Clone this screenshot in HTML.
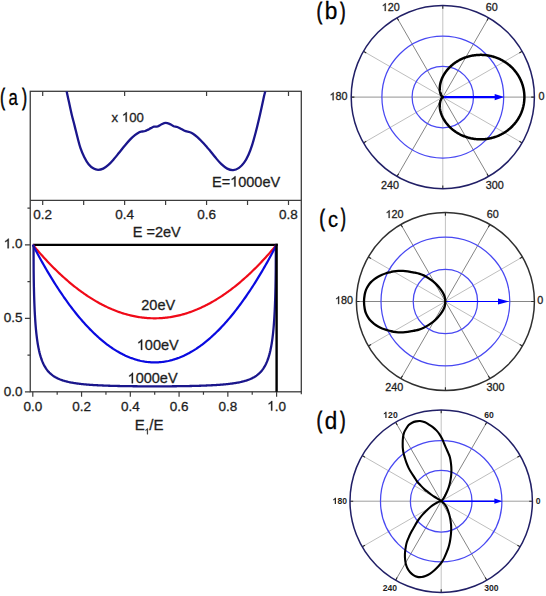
<!DOCTYPE html>
<html><head><meta charset="utf-8"><style>
html,body{margin:0;padding:0;background:#fff;}
body{width:546px;height:596px;overflow:hidden;}
svg{display:block;font-family:"Liberation Sans", sans-serif;}
</style></head><body>
<svg width="546" height="596" viewBox="0 0 546 596">
<rect width="546" height="596" fill="#fff"/>
<rect x="30.25" y="91.3" width="271.05" height="300.5" fill="none" stroke="#3c3c3c" stroke-width="1.3"/>
<line x1="30.25" y1="200.3" x2="301.3" y2="200.3" stroke="#3c3c3c" stroke-width="1.3"/>
<path d="M42.7,91.3 V95.9 M124.63,91.3 V95.9 M206.57,91.3 V95.9 M288.5,91.3 V95.9 M42.7,200.3 V204.9 M83.67,200.3 V204.9 M124.63,200.3 V204.9 M165.6,200.3 V204.9 M206.57,200.3 V204.9 M247.53,200.3 V204.9 M288.5,200.3 V204.9 M32.8,391.8 V396.8 M57.18,391.8 V394.8 M81.56,391.8 V396.8 M105.94,391.8 V394.8 M130.32,391.8 V396.8 M154.7,391.8 V394.8 M179.08,391.8 V396.8 M203.46,391.8 V394.8 M227.84,391.8 V396.8 M252.22,391.8 V394.8 M276.6,391.8 V396.8 M301.3,391.8 V394.3 M24.95,391.8 H30.25 M24.95,318.3 H30.25 M24.95,244.8 H30.25 M27.45,355.05 H30.25 M27.45,281.55 H30.25 M27.45,208.05 H30.25" stroke="#3c3c3c" stroke-width="1.2" fill="none"/>
<clipPath id="cu"><rect x="30.25" y="91.3" width="271.05" height="109.00000000000001"/></clipPath>
<path clip-path="url(#cu)" d="M66.6,91.2 C66.97,92.87 67.95,97.33 68.8,101.2 C69.65,105.07 70.72,110.25 71.7,114.4 C72.68,118.55 73.72,122.2 74.7,126.1 C75.68,130 76.63,134.13 77.6,137.8 C78.57,141.47 79.4,144.92 80.5,148.1 C81.6,151.28 82.85,154.22 84.2,156.9 C85.55,159.58 87.02,162.25 88.6,164.2 C90.18,166.15 92.12,167.67 93.7,168.6 C95.28,169.53 96.52,169.8 98.1,169.8 C99.68,169.8 101.48,169.42 103.2,168.6 C104.92,167.78 106.65,166.45 108.4,164.9 C110.15,163.35 111.97,161.27 113.7,159.3 C115.43,157.33 116.97,155.35 118.8,153.1 C120.63,150.85 122.87,148 124.7,145.8 C126.53,143.6 128.1,141.67 129.8,139.9 C131.5,138.13 133.32,136.48 134.9,135.2 C136.48,133.92 138.08,132.82 139.3,132.2 C140.52,131.58 141.22,131.7 142.2,131.5 C143.18,131.3 144.22,131.32 145.2,131 C146.18,130.68 147.15,130.08 148.1,129.6 C149.05,129.12 149.93,128.58 150.9,128.1 C151.87,127.62 152.8,126.97 153.9,126.7 C155,126.43 156.28,126.87 157.5,126.5 C158.72,126.13 159.85,125.12 161.2,124.5 C162.55,123.88 164.13,122.87 165.6,122.8 C167.07,122.73 168.67,123.53 170,124.1 C171.33,124.67 172.38,125.72 173.6,126.2 C174.82,126.68 176.02,126.53 177.3,127 C178.58,127.47 179.9,128.3 181.3,129 C182.7,129.7 184.37,130.7 185.7,131.2 C187.03,131.7 188.08,131.58 189.3,132 C190.52,132.42 191.65,132.85 193,133.7 C194.35,134.55 195.93,135.8 197.4,137.1 C198.87,138.4 200.33,139.97 201.8,141.5 C203.27,143.03 204.88,144.83 206.2,146.3 C207.52,147.77 208.15,148.42 209.7,150.3 C211.25,152.18 213.55,155.28 215.5,157.6 C217.45,159.92 219.45,162.37 221.4,164.2 C223.35,166.03 225.25,167.62 227.2,168.6 C229.15,169.58 231.13,170.22 233.1,170.1 C235.07,169.98 237.17,169.13 239,167.9 C240.83,166.67 242.52,164.9 244.1,162.7 C245.68,160.5 247.17,157.63 248.5,154.7 C249.83,151.77 250.88,148.88 252.1,145.1 C253.32,141.32 254.7,136.15 255.8,132 C256.9,127.85 257.72,124.37 258.7,120.2 C259.68,116.03 260.83,110.9 261.7,107 C262.57,103.1 263.3,99.43 263.9,96.8 C264.5,94.17 265.07,92.13 265.3,91.2" stroke="#1a168c" stroke-width="2.3" fill="none" stroke-linejoin="round"/>
<path d="M32.8,244.8 H277.7" stroke="#000" stroke-width="2.2" fill="none"/>
<path d="M32.8,244.8 L34.02,246.26 L35.24,247.71 L36.46,249.14 L37.68,250.56 L38.89,251.97 L40.11,253.36 L41.33,254.73 L42.55,256.09 L43.77,257.43 L44.99,258.76 L46.21,260.08 L47.43,261.38 L48.65,262.67 L49.87,263.94 L51.08,265.2 L52.3,266.44 L53.52,267.67 L54.74,268.88 L55.96,270.08 L57.18,271.26 L58.4,272.43 L59.62,273.58 L60.84,274.72 L62.06,275.85 L63.27,276.96 L64.49,278.05 L65.71,279.13 L66.93,280.2 L68.15,281.25 L69.37,282.29 L70.59,283.31 L71.81,284.31 L73.03,285.31 L74.25,286.28 L75.47,287.25 L76.68,288.19 L77.9,289.13 L79.12,290.05 L80.34,290.95 L81.56,291.84 L82.78,292.71 L84,293.57 L85.22,294.42 L86.44,295.25 L87.66,296.07 L88.87,296.87 L90.09,297.65 L91.31,298.43 L92.53,299.18 L93.75,299.93 L94.97,300.65 L96.19,301.37 L97.41,302.06 L98.63,302.75 L99.84,303.42 L101.06,304.07 L102.28,304.71 L103.5,305.33 L104.72,305.94 L105.94,306.54 L107.16,307.12 L108.38,307.69 L109.6,308.24 L110.82,308.77 L112.03,309.3 L113.25,309.8 L114.47,310.3 L115.69,310.77 L116.91,311.24 L118.13,311.69 L119.35,312.12 L120.57,312.54 L121.79,312.94 L123.01,313.33 L124.23,313.71 L125.44,314.07 L126.66,314.41 L127.88,314.74 L129.1,315.06 L130.32,315.36 L131.54,315.65 L132.76,315.92 L133.98,316.18 L135.2,316.42 L136.42,316.65 L137.63,316.86 L138.85,317.06 L140.07,317.24 L141.29,317.41 L142.51,317.57 L143.73,317.7 L144.95,317.83 L146.17,317.94 L147.39,318.04 L148.61,318.12 L149.82,318.18 L151.04,318.23 L152.26,318.27 L153.48,318.29 L154.7,318.3 L155.92,318.29 L157.14,318.27 L158.36,318.23 L159.58,318.18 L160.8,318.12 L162.01,318.04 L163.23,317.94 L164.45,317.83 L165.67,317.7 L166.89,317.56 L168.11,317.41 L169.33,317.24 L170.55,317.06 L171.77,316.86 L172.99,316.65 L174.2,316.42 L175.42,316.18 L176.64,315.92 L177.86,315.65 L179.08,315.36 L180.3,315.06 L181.52,314.74 L182.74,314.41 L183.96,314.07 L185.18,313.71 L186.39,313.33 L187.61,312.94 L188.83,312.54 L190.05,312.12 L191.27,311.69 L192.49,311.24 L193.71,310.77 L194.93,310.3 L196.15,309.8 L197.37,309.3 L198.58,308.77 L199.8,308.24 L201.02,307.69 L202.24,307.12 L203.46,306.54 L204.68,305.94 L205.9,305.33 L207.12,304.71 L208.34,304.07 L209.56,303.42 L210.77,302.75 L211.99,302.06 L213.21,301.37 L214.43,300.65 L215.65,299.93 L216.87,299.18 L218.09,298.43 L219.31,297.65 L220.53,296.87 L221.75,296.07 L222.96,295.25 L224.18,294.42 L225.4,293.57 L226.62,292.71 L227.84,291.84 L229.06,290.95 L230.28,290.05 L231.5,289.13 L232.72,288.19 L233.94,287.25 L235.15,286.28 L236.37,285.31 L237.59,284.31 L238.81,283.31 L240.03,282.29 L241.25,281.25 L242.47,280.2 L243.69,279.13 L244.91,278.05 L246.12,276.96 L247.34,275.85 L248.56,274.72 L249.78,273.58 L251,272.43 L252.22,271.26 L253.44,270.08 L254.66,268.88 L255.88,267.67 L257.1,266.44 L258.31,265.2 L259.53,263.94 L260.75,262.67 L261.97,261.38 L263.19,260.08 L264.41,258.76 L265.63,257.43 L266.85,256.09 L268.07,254.73 L269.29,253.36 L270.5,251.97 L271.72,250.56 L272.94,249.14 L274.16,247.71 L275.38,246.26 L276.6,244.8" stroke="#f00a18" stroke-width="2.2" fill="none"/>
<path d="M32.8,244.8 L34.02,247.14 L35.24,249.46 L36.46,251.75 L37.68,254.02 L38.89,256.27 L40.11,258.49 L41.33,260.69 L42.55,262.86 L43.77,265.02 L44.99,267.14 L46.21,269.25 L47.43,271.33 L48.65,273.39 L49.87,275.42 L51.08,277.43 L52.3,279.42 L53.52,281.39 L54.74,283.33 L55.96,285.24 L57.18,287.14 L58.4,289.01 L59.62,290.85 L60.84,292.67 L62.06,294.47 L63.27,296.25 L64.49,298 L65.71,299.73 L66.93,301.44 L68.15,303.12 L69.37,304.78 L70.59,306.41 L71.81,308.02 L73.03,309.61 L74.25,311.17 L75.47,312.71 L76.68,314.23 L77.9,315.72 L79.12,317.19 L80.34,318.64 L81.56,320.06 L82.78,321.46 L84,322.84 L85.22,324.19 L86.44,325.52 L87.66,326.83 L88.87,328.11 L90.09,329.37 L91.31,330.6 L92.53,331.81 L93.75,333 L94.97,334.16 L96.19,335.3 L97.41,336.42 L98.63,337.52 L99.84,338.59 L101.06,339.63 L102.28,340.66 L103.5,341.66 L104.72,342.63 L105.94,343.58 L107.16,344.51 L108.38,345.42 L109.6,346.3 L110.82,347.16 L112.03,347.99 L113.25,348.81 L114.47,349.59 L115.69,350.36 L116.91,351.1 L118.13,351.82 L119.35,352.51 L120.57,353.18 L121.79,353.83 L123.01,354.45 L124.23,355.05 L125.44,355.63 L126.66,356.18 L127.88,356.71 L129.1,357.21 L130.32,357.7 L131.54,358.15 L132.76,358.59 L133.98,359 L135.2,359.39 L136.42,359.75 L137.63,360.1 L138.85,360.41 L140.07,360.71 L141.29,360.98 L142.51,361.22 L143.73,361.45 L144.95,361.65 L146.17,361.82 L147.39,361.98 L148.61,362.11 L149.82,362.21 L151.04,362.29 L152.26,362.35 L153.48,362.39 L154.7,362.4 L155.92,362.39 L157.14,362.35 L158.36,362.29 L159.58,362.21 L160.8,362.11 L162.01,361.98 L163.23,361.82 L164.45,361.65 L165.67,361.45 L166.89,361.22 L168.11,360.98 L169.33,360.71 L170.55,360.41 L171.77,360.1 L172.99,359.75 L174.2,359.39 L175.42,359 L176.64,358.59 L177.86,358.15 L179.08,357.7 L180.3,357.21 L181.52,356.71 L182.74,356.18 L183.96,355.63 L185.18,355.05 L186.39,354.45 L187.61,353.83 L188.83,353.18 L190.05,352.51 L191.27,351.82 L192.49,351.1 L193.71,350.36 L194.93,349.59 L196.15,348.81 L197.37,347.99 L198.58,347.16 L199.8,346.3 L201.02,345.42 L202.24,344.51 L203.46,343.58 L204.68,342.63 L205.9,341.66 L207.12,340.66 L208.34,339.63 L209.56,338.59 L210.77,337.52 L211.99,336.42 L213.21,335.3 L214.43,334.16 L215.65,333 L216.87,331.81 L218.09,330.6 L219.31,329.37 L220.53,328.11 L221.75,326.83 L222.96,325.52 L224.18,324.19 L225.4,322.84 L226.62,321.46 L227.84,320.06 L229.06,318.64 L230.28,317.19 L231.5,315.72 L232.72,314.23 L233.94,312.71 L235.15,311.17 L236.37,309.61 L237.59,308.02 L238.81,306.41 L240.03,304.78 L241.25,303.12 L242.47,301.44 L243.69,299.73 L244.91,298 L246.12,296.25 L247.34,294.47 L248.56,292.67 L249.78,290.85 L251,289.01 L252.22,287.14 L253.44,285.24 L254.66,283.33 L255.88,281.39 L257.1,279.42 L258.31,277.43 L259.53,275.42 L260.75,273.39 L261.97,271.33 L263.19,269.25 L264.41,267.14 L265.63,265.02 L266.85,262.86 L268.07,260.69 L269.29,258.49 L270.5,256.27 L271.72,254.02 L272.94,251.75 L274.16,249.46 L275.38,247.14 L276.6,244.8" stroke="#0a0ae0" stroke-width="2.2" fill="none"/>
<path d="M33.53,244.8 L33.65,270.56 L33.77,279.9 L33.89,286.56 L34.02,291.87 L34.14,296.31 L34.26,300.15 L34.38,303.53 L34.5,306.57 L34.62,309.32 L34.74,311.83 L34.86,314.15 L34.99,316.3 L35.11,318.3 L35.23,320.17 L35.35,321.92 L35.47,323.58 L35.59,325.14 L35.71,326.62 L35.83,328.02 L35.95,329.36 L36.08,330.64 L36.2,331.85 L36.32,333.02 L36.44,334.13 L36.56,335.2 L36.68,336.23 L36.8,337.21 L36.92,338.16 L37.05,339.08 L37.17,339.96 L37.29,340.81 L37.41,341.64 L37.53,342.43 L37.65,343.2 L37.77,343.95 L37.89,344.67 L38.01,345.37 L38.14,346.05 L38.26,346.71 L38.38,347.35 L38.98,350.29 L39.59,352.87 L40.2,355.15 L40.8,357.18 L41.41,359.01 L42.01,360.65 L42.62,362.15 L43.22,363.51 L43.83,364.75 L44.44,365.9 L45.04,366.95 L45.65,367.93 L46.25,368.83 L46.86,369.67 L47.47,370.45 L48.07,371.18 L48.68,371.86 L49.28,372.5 L49.89,373.1 L50.5,373.66 L51.1,374.19 L51.71,374.69 L52.31,375.16 L52.92,375.61 L53.52,376.03 L54.13,376.43 L54.74,376.81 L55.34,377.17 L55.95,377.51 L56.55,377.83 L57.16,378.14 L57.77,378.43 L58.37,378.71 L58.98,378.98 L59.58,379.24 L60.19,379.48 L60.79,379.71 L61.4,379.94 L62.01,380.15 L62.61,380.36 L63.22,380.55 L63.82,380.74 L64.43,380.92 L65.04,381.09 L65.64,381.26 L66.25,381.42 L66.85,381.58 L67.46,381.72 L68.06,381.87 L68.67,382 L69.28,382.14 L69.88,382.26 L70.49,382.39 L71.09,382.51 L71.7,382.62 L72.31,382.73 L72.91,382.84 L73.52,382.94 L74.12,383.04 L74.73,383.14 L75.33,383.23 L75.94,383.32 L76.55,383.41 L77.15,383.49 L77.76,383.57 L78.36,383.65 L78.97,383.73 L79.58,383.81 L80.18,383.88 L80.79,383.95 L81.39,384.02 L82,384.08 L82.6,384.14 L83.21,384.21 L83.82,384.27 L84.42,384.33 L85.03,384.38 L85.63,384.44 L86.24,384.49 L86.85,384.54 L87.45,384.59 L88.06,384.64 L88.66,384.69 L89.27,384.74 L89.87,384.78 L90.48,384.83 L91.09,384.87 L91.69,384.91 L92.3,384.95 L92.9,384.99 L93.51,385.03 L94.12,385.07 L94.72,385.1 L95.33,385.14 L95.93,385.17 L96.54,385.21 L97.14,385.24 L97.75,385.27 L98.36,385.3 L98.96,385.33 L99.57,385.36 L100.17,385.39 L100.78,385.42 L101.39,385.45 L101.99,385.47 L102.6,385.5 L103.2,385.52 L103.81,385.55 L104.42,385.57 L105.02,385.6 L105.63,385.62 L106.23,385.64 L106.84,385.66 L107.44,385.68 L108.05,385.71 L108.66,385.73 L109.26,385.75 L109.87,385.76 L110.47,385.78 L111.08,385.8 L111.69,385.82 L112.29,385.84 L112.9,385.85 L113.5,385.87 L114.11,385.89 L114.71,385.9 L115.32,385.92 L115.93,385.93 L116.53,385.95 L117.14,385.96 L117.74,385.98 L118.35,385.99 L118.96,386 L119.56,386.02 L120.17,386.03 L120.77,386.04 L121.38,386.05 L121.98,386.07 L122.59,386.08 L123.2,386.09 L123.8,386.1 L124.41,386.11 L125.01,386.12 L125.62,386.13 L126.23,386.14 L126.83,386.15 L127.44,386.16 L128.04,386.17 L128.65,386.17 L129.25,386.18 L129.86,386.19 L130.47,386.2 L131.07,386.21 L131.68,386.21 L132.28,386.22 L132.89,386.23 L133.5,386.23 L134.1,386.24 L134.71,386.25 L135.31,386.25 L135.92,386.26 L136.52,386.26 L137.13,386.27 L137.74,386.28 L138.34,386.28 L138.95,386.29 L139.55,386.29 L140.16,386.29 L140.77,386.3 L141.37,386.3 L141.98,386.31 L142.58,386.31 L143.19,386.31 L143.79,386.32 L144.4,386.32 L145.01,386.32 L145.61,386.33 L146.22,386.33 L146.82,386.33 L147.43,386.33 L148.04,386.33 L148.64,386.34 L149.25,386.34 L149.85,386.34 L150.46,386.34 L151.06,386.34 L151.67,386.34 L152.28,386.34 L152.88,386.34 L153.49,386.34 L154.09,386.35 L154.7,386.35 L155.31,386.35 L155.91,386.34 L156.52,386.34 L157.12,386.34 L157.73,386.34 L158.34,386.34 L158.94,386.34 L159.55,386.34 L160.15,386.34 L160.76,386.34 L161.36,386.33 L161.97,386.33 L162.58,386.33 L163.18,386.33 L163.79,386.33 L164.39,386.32 L165,386.32 L165.61,386.32 L166.21,386.31 L166.82,386.31 L167.42,386.31 L168.03,386.3 L168.63,386.3 L169.24,386.29 L169.85,386.29 L170.45,386.29 L171.06,386.28 L171.66,386.28 L172.27,386.27 L172.88,386.26 L173.48,386.26 L174.09,386.25 L174.69,386.25 L175.3,386.24 L175.9,386.23 L176.51,386.23 L177.12,386.22 L177.72,386.21 L178.33,386.21 L178.93,386.2 L179.54,386.19 L180.15,386.18 L180.75,386.17 L181.36,386.17 L181.96,386.16 L182.57,386.15 L183.17,386.14 L183.78,386.13 L184.39,386.12 L184.99,386.11 L185.6,386.1 L186.2,386.09 L186.81,386.08 L187.42,386.07 L188.02,386.05 L188.63,386.04 L189.23,386.03 L189.84,386.02 L190.44,386 L191.05,385.99 L191.66,385.98 L192.26,385.96 L192.87,385.95 L193.47,385.93 L194.08,385.92 L194.69,385.9 L195.29,385.89 L195.9,385.87 L196.5,385.85 L197.11,385.84 L197.71,385.82 L198.32,385.8 L198.93,385.78 L199.53,385.76 L200.14,385.75 L200.74,385.73 L201.35,385.71 L201.96,385.68 L202.56,385.66 L203.17,385.64 L203.77,385.62 L204.38,385.6 L204.98,385.57 L205.59,385.55 L206.2,385.52 L206.8,385.5 L207.41,385.47 L208.01,385.45 L208.62,385.42 L209.23,385.39 L209.83,385.36 L210.44,385.33 L211.04,385.3 L211.65,385.27 L212.26,385.24 L212.86,385.21 L213.47,385.17 L214.07,385.14 L214.68,385.1 L215.28,385.07 L215.89,385.03 L216.5,384.99 L217.1,384.95 L217.71,384.91 L218.31,384.87 L218.92,384.83 L219.53,384.78 L220.13,384.74 L220.74,384.69 L221.34,384.64 L221.95,384.59 L222.55,384.54 L223.16,384.49 L223.77,384.44 L224.37,384.38 L224.98,384.33 L225.58,384.27 L226.19,384.21 L226.8,384.14 L227.4,384.08 L228.01,384.02 L228.61,383.95 L229.22,383.88 L229.82,383.81 L230.43,383.73 L231.04,383.65 L231.64,383.57 L232.25,383.49 L232.85,383.41 L233.46,383.32 L234.07,383.23 L234.67,383.14 L235.28,383.04 L235.88,382.94 L236.49,382.84 L237.09,382.73 L237.7,382.62 L238.31,382.51 L238.91,382.39 L239.52,382.26 L240.12,382.14 L240.73,382 L241.34,381.87 L241.94,381.72 L242.55,381.58 L243.15,381.42 L243.76,381.26 L244.36,381.09 L244.97,380.92 L245.58,380.74 L246.18,380.55 L246.79,380.36 L247.39,380.15 L248,379.94 L248.61,379.71 L249.21,379.48 L249.82,379.24 L250.42,378.98 L251.03,378.71 L251.63,378.43 L252.24,378.14 L252.85,377.83 L253.45,377.51 L254.06,377.17 L254.66,376.81 L255.27,376.43 L255.88,376.03 L256.48,375.61 L257.09,375.16 L257.69,374.69 L258.3,374.19 L258.9,373.66 L259.51,373.1 L260.12,372.5 L260.72,371.86 L261.33,371.18 L261.93,370.45 L262.54,369.67 L263.15,368.83 L263.75,367.93 L264.36,366.95 L264.96,365.9 L265.57,364.75 L266.18,363.51 L266.78,362.15 L267.39,360.65 L267.99,359.01 L268.6,357.18 L269.2,355.15 L269.81,352.87 L270.42,350.29 L271.02,347.35 L271.14,346.71 L271.26,346.05 L271.39,345.37 L271.51,344.67 L271.63,343.95 L271.75,343.2 L271.87,342.43 L271.99,341.64 L272.11,340.81 L272.23,339.96 L272.35,339.08 L272.48,338.16 L272.6,337.21 L272.72,336.23 L272.84,335.2 L272.96,334.13 L273.08,333.02 L273.2,331.85 L273.32,330.64 L273.45,329.36 L273.57,328.02 L273.69,326.62 L273.81,325.14 L273.93,323.58 L274.05,321.92 L274.17,320.17 L274.29,318.3 L274.41,316.3 L274.54,314.15 L274.66,311.83 L274.78,309.32 L274.9,306.57 L275.02,303.53 L275.14,300.15 L275.26,296.31 L275.38,291.87 L275.51,286.56 L275.63,279.9 L275.75,270.56 L275.87,244.8" stroke="#1a168c" stroke-width="2.3" fill="none"/>
<path d="M276.6,243.7 V391.8" stroke="#000" stroke-width="2.4" fill="none"/>
<text x="33.32" y="219.4" font-size="13.5" fill="#1e1e1e" stroke="#1e1e1e" stroke-width="0.3">0.2</text>
<text x="115.25" y="219.4" font-size="13.5" fill="#1e1e1e" stroke="#1e1e1e" stroke-width="0.3">0.4</text>
<text x="197.18" y="219.4" font-size="13.5" fill="#1e1e1e" stroke="#1e1e1e" stroke-width="0.3">0.6</text>
<text x="279.12" y="219.4" font-size="13.5" fill="#1e1e1e" stroke="#1e1e1e" stroke-width="0.3">0.8</text>
<text x="23.42" y="410.6" font-size="13.5" fill="#1e1e1e" stroke="#1e1e1e" stroke-width="0.3">0.0</text>
<text x="72.18" y="410.6" font-size="13.5" fill="#1e1e1e" stroke="#1e1e1e" stroke-width="0.3">0.2</text>
<text x="120.94" y="410.6" font-size="13.5" fill="#1e1e1e" stroke="#1e1e1e" stroke-width="0.3">0.4</text>
<text x="169.7" y="410.6" font-size="13.5" fill="#1e1e1e" stroke="#1e1e1e" stroke-width="0.3">0.6</text>
<text x="218.46" y="410.6" font-size="13.5" fill="#1e1e1e" stroke="#1e1e1e" stroke-width="0.3">0.8</text>
<text x="267.22" y="410.6" font-size="13.5" fill="#1e1e1e" stroke="#1e1e1e" stroke-width="0.3"> .0</text><path transform="translate(267.22 410.6) scale(0.00659 -0.00659)" d="M763,0H583V1147Q518,1085 412.5,1023Q307,961 223,930V1104Q374,1175 487,1276Q600,1377 647,1466H763Z" fill="#1e1e1e" stroke="#1e1e1e" stroke-width="45.51111111111111"/>
<text x="3.73" y="248.3" font-size="13.5" fill="#1e1e1e" stroke="#1e1e1e" stroke-width="0.3"> .0</text><path transform="translate(3.73 248.3) scale(0.00659 -0.00659)" d="M763,0H583V1147Q518,1085 412.5,1023Q307,961 223,930V1104Q374,1175 487,1276Q600,1377 647,1466H763Z" fill="#1e1e1e" stroke="#1e1e1e" stroke-width="45.51111111111111"/>
<text x="3.73" y="321.9" font-size="13.5" fill="#1e1e1e" stroke="#1e1e1e" stroke-width="0.3">0.5</text>
<text x="3.73" y="395.6" font-size="13.5" fill="#1e1e1e" stroke="#1e1e1e" stroke-width="0.3">0.0</text>
<text x="212" y="186.6" font-size="14.5" fill="#1e1e1e" stroke="#1e1e1e" stroke-width="0.3">E= 000eV</text><path transform="translate(230.14 186.6) scale(0.00708 -0.00708)" d="M763,0H583V1147Q518,1085 412.5,1023Q307,961 223,930V1104Q374,1175 487,1276Q600,1377 647,1466H763Z" fill="#1e1e1e" stroke="#1e1e1e" stroke-width="42.37241379310345"/>
<text x="132.8" y="237" font-size="14.5" fill="#1e1e1e" stroke="#1e1e1e" stroke-width="0.3">E =2eV</text>
<text x="141.3" y="309.6" font-size="14.5" fill="#1e1e1e" stroke="#1e1e1e" stroke-width="0.3">20eV</text>
<text x="136.8" y="349.9" font-size="14.5" fill="#1e1e1e" stroke="#1e1e1e" stroke-width="0.3"> 00eV</text><path transform="translate(136.8 349.9) scale(0.00708 -0.00708)" d="M763,0H583V1147Q518,1085 412.5,1023Q307,961 223,930V1104Q374,1175 487,1276Q600,1377 647,1466H763Z" fill="#1e1e1e" stroke="#1e1e1e" stroke-width="42.37241379310345"/>
<text x="127.6" y="383.2" font-size="14.5" fill="#1e1e1e" stroke="#1e1e1e" stroke-width="0.3"> 000eV</text><path transform="translate(127.6 383.2) scale(0.00708 -0.00708)" d="M763,0H583V1147Q518,1085 412.5,1023Q307,961 223,930V1104Q374,1175 487,1276Q600,1377 647,1466H763Z" fill="#1e1e1e" stroke="#1e1e1e" stroke-width="42.37241379310345"/>
<text x="111.6" y="121.7" font-size="13.2" fill="#1e1e1e" stroke="#1e1e1e" stroke-width="0.3">x  00</text><path transform="translate(121.87 121.7) scale(0.00645 -0.00645)" d="M763,0H583V1147Q518,1085 412.5,1023Q307,961 223,930V1104Q374,1175 487,1276Q600,1377 647,1466H763Z" fill="#1e1e1e" stroke="#1e1e1e" stroke-width="46.54545454545455"/>
<text x="134.7" y="430" font-size="15" fill="#1e1e1e" stroke="#1e1e1e" stroke-width="0.3">E</text>
<text x="144.7" y="434.3" font-size="8.2" fill="#1e1e1e" stroke="#1e1e1e" stroke-width="0.3"> </text><path transform="translate(144.7 434.3) scale(0.00400 -0.00400)" d="M763,0H583V1147Q518,1085 412.5,1023Q307,961 223,930V1104Q374,1175 487,1276Q600,1377 647,1466H763Z" fill="#1e1e1e" stroke="#1e1e1e" stroke-width="74.92682926829269"/>
<text x="149.27" y="430" font-size="15" fill="#1e1e1e" stroke="#1e1e1e" stroke-width="0.3">/E</text>
<text transform="translate(0.28 105.46) scale(0.5583 0.9833)" font-size="25" fill="#000" stroke="#000" stroke-width="1.0">(</text>
<text transform="translate(8.44 105.14) scale(0.6697 0.8688)" font-size="25" fill="#000" stroke="#000" stroke-width="0.3">a</text>
<text transform="translate(22.27 105.46) scale(0.5583 0.9833)" font-size="25" fill="#000" stroke="#000" stroke-width="1.0">)</text>
<text transform="translate(316.77 18.59) scale(0.6337 0.9575)" font-size="25" fill="#000" stroke="#000" stroke-width="1.0">(</text>
<text transform="translate(324.79 18.92) scale(0.9073 0.9423)" font-size="25" fill="#000" stroke="#000" stroke-width="0.3">b</text>
<text transform="translate(340.36 18.59) scale(0.6186 0.9575)" font-size="25" fill="#000" stroke="#000" stroke-width="1.0">)</text>
<text transform="translate(319.47 226.49) scale(0.6337 0.9575)" font-size="25" fill="#000" stroke="#000" stroke-width="1.0">(</text>
<text transform="translate(328.09 227.04) scale(0.8072 0.8761)" font-size="25" fill="#000" stroke="#000" stroke-width="0.3">c</text>
<text transform="translate(340.97 226.49) scale(0.5734 0.9575)" font-size="25" fill="#000" stroke="#000" stroke-width="1.0">)</text>
<text transform="translate(316.77 428.49) scale(0.6337 0.9575)" font-size="25" fill="#000" stroke="#000" stroke-width="1.0">(</text>
<text transform="translate(324.71 428.62) scale(0.8984 0.9314)" font-size="25" fill="#000" stroke="#000" stroke-width="0.3">d</text>
<text transform="translate(340.36 428.49) scale(0.6186 0.9575)" font-size="25" fill="#000" stroke="#000" stroke-width="1.0">)</text>
<line x1="442.8" y1="97.1" x2="534.4" y2="97.1" stroke="#939393" stroke-width="1"/>
<line x1="442.8" y1="97.1" x2="522.13" y2="51.3" stroke="#bebebe" stroke-width="1"/>
<line x1="442.8" y1="97.1" x2="488.6" y2="17.77" stroke="#858585" stroke-width="1"/>
<line x1="442.8" y1="97.1" x2="442.8" y2="5.5" stroke="#c2c2c2" stroke-width="1"/>
<line x1="442.8" y1="97.1" x2="397" y2="17.77" stroke="#858585" stroke-width="1"/>
<line x1="442.8" y1="97.1" x2="363.47" y2="51.3" stroke="#bebebe" stroke-width="1"/>
<line x1="442.8" y1="97.1" x2="351.2" y2="97.1" stroke="#939393" stroke-width="1"/>
<line x1="442.8" y1="97.1" x2="363.47" y2="142.9" stroke="#bebebe" stroke-width="1"/>
<line x1="442.8" y1="97.1" x2="397" y2="176.43" stroke="#858585" stroke-width="1"/>
<line x1="442.8" y1="97.1" x2="442.8" y2="188.7" stroke="#c2c2c2" stroke-width="1"/>
<line x1="442.8" y1="97.1" x2="488.6" y2="176.43" stroke="#858585" stroke-width="1"/>
<line x1="442.8" y1="97.1" x2="522.13" y2="142.9" stroke="#bebebe" stroke-width="1"/>
<path d="M531.2,97.1 L534.4,97.1 M519.36,52.9 L522.13,51.3 M487,20.54 L488.6,17.77 M442.8,8.7 L442.8,5.5 M398.6,20.54 L397,17.77 M366.24,52.9 L363.47,51.3 M354.4,97.1 L351.2,97.1 M366.24,141.3 L363.47,142.9 M398.6,173.66 L397,176.43 M442.8,185.5 L442.8,188.7 M487,173.66 L488.6,176.43 M519.36,141.3 L522.13,142.9" stroke="#2a2a2a" stroke-width="1.1"/>
<circle cx="442.8" cy="97.1" r="30.7" fill="none" stroke="#4848f2" stroke-width="1.25"/>
<circle cx="442.8" cy="97.1" r="60.9" fill="none" stroke="#4848f2" stroke-width="1.25"/>
<circle cx="442.8" cy="97.1" r="91.6" fill="none" stroke="#211f66" stroke-width="1.5"/>
<line x1="442.8" y1="97.1" x2="495.7" y2="97.1" stroke="#0000ff" stroke-width="2.2"/>
<path d="M504.2,97.1 L494.7,93.9 L494.7,100.3 Z" fill="#0000ff"/>
<path d="M524.4,97.1 L524.39,96.39 L524.38,95.68 L524.34,94.96 L524.3,94.25 L524.24,93.54 L524.18,92.84 L524.1,92.13 L524,91.42 L523.9,90.72 L523.78,90.02 L523.65,89.31 L523.51,88.62 L523.36,87.92 L523.19,87.23 L523.01,86.54 L522.82,85.85 L522.62,85.17 L522.41,84.49 L522.18,83.82 L521.94,83.14 L521.7,82.48 L521.44,81.81 L521.16,81.16 L520.88,80.5 L520.59,79.85 L520.28,79.21 L519.97,78.57 L519.64,77.94 L519.3,77.31 L518.96,76.69 L518.6,76.08 L518.23,75.47 L517.85,74.87 L517.46,74.27 L517.06,73.68 L516.65,73.1 L516.24,72.53 L515.81,71.96 L515.37,71.4 L514.92,70.85 L514.47,70.3 L514,69.77 L513.53,69.24 L513.05,68.72 L512.56,68.2 L512.06,67.7 L511.55,67.2 L511.04,66.72 L510.52,66.24 L509.99,65.77 L509.45,65.31 L508.91,64.86 L508.36,64.42 L507.8,63.98 L507.23,63.56 L506.66,63.14 L506.08,62.74 L505.5,62.34 L504.91,61.96 L504.32,61.58 L503.72,61.22 L503.11,60.86 L502.5,60.52 L501.88,60.18 L501.26,59.85 L500.64,59.54 L500.01,59.23 L499.38,58.94 L498.74,58.65 L498.1,58.38 L497.46,58.11 L496.81,57.86 L496.16,57.62 L495.51,57.38 L494.85,57.16 L494.19,56.95 L493.53,56.75 L492.87,56.55 L492.21,56.37 L491.54,56.2 L490.87,56.04 L490.2,55.89 L489.54,55.75 L488.86,55.62 L488.19,55.5 L487.52,55.4 L486.85,55.3 L486.18,55.21 L485.51,55.13 L484.84,55.06 L484.17,55 L483.5,54.96 L482.83,54.92 L482.16,54.89 L481.49,54.87 L480.83,54.86 L480.17,54.87 L479.5,54.88 L478.85,54.9 L478.19,54.93 L477.53,54.96 L476.88,55.01 L476.23,55.07 L475.58,55.14 L474.94,55.21 L474.3,55.3 L473.66,55.39 L473.03,55.49 L472.4,55.6 L471.77,55.72 L471.15,55.85 L470.53,55.98 L469.92,56.13 L469.31,56.28 L468.7,56.44 L468.1,56.61 L467.51,56.78 L466.92,56.96 L466.33,57.15 L465.75,57.35 L465.17,57.55 L464.6,57.76 L464.04,57.98 L463.48,58.21 L462.93,58.44 L462.38,58.67 L461.84,58.92 L461.3,59.17 L460.77,59.42 L460.25,59.68 L459.73,59.95 L459.22,60.22 L458.72,60.5 L458.22,60.78 L457.73,61.07 L457.24,61.36 L456.76,61.66 L456.29,61.96 L455.82,62.26 L455.37,62.57 L454.91,62.89 L454.47,63.21 L454.03,63.53 L453.6,63.85 L453.18,64.18 L452.76,64.52 L452.35,64.85 L451.95,65.19 L451.55,65.53 L451.17,65.88 L450.79,66.22 L450.41,66.57 L450.05,66.92 L449.69,67.27 L449.33,67.63 L448.99,67.99 L448.65,68.34 L448.32,68.7 L448,69.06 L447.68,69.43 L447.37,69.79 L447.07,70.15 L446.77,70.52 L446.48,70.88 L446.2,71.25 L445.93,71.62 L445.66,71.98 L445.4,72.35 L445.15,72.71 L444.9,73.08 L444.66,73.45 L444.43,73.81 L444.2,74.18 L443.98,74.54 L443.77,74.9 L443.56,75.26 L443.36,75.63 L443.17,75.98 L442.98,76.34 L442.8,76.7 L442.63,77.06 L442.46,77.41 L442.29,77.76 L442.14,78.11 L441.99,78.46 L441.84,78.8 L441.7,79.15 L441.57,79.49 L441.44,79.83 L441.32,80.17 L441.2,80.5 L441.09,80.83 L440.98,81.16 L440.88,81.49 L440.79,81.81 L440.7,82.13 L440.61,82.45 L440.53,82.76 L440.45,83.07 L440.38,83.38 L440.31,83.69 L440.25,83.99 L440.19,84.29 L440.14,84.58 L440.09,84.87 L440.04,85.16 L440,85.44 L439.96,85.72 L439.93,86 L439.9,86.28 L439.87,86.54 L439.85,86.81 L439.83,87.07 L439.81,87.33 L439.8,87.59 L439.79,87.84 L439.78,88.08 L439.78,88.33 L439.78,88.57 L439.78,88.8 L439.78,89.03 L439.79,89.26 L439.8,89.48 L439.81,89.7 L439.83,89.92 L439.84,90.13 L439.86,90.34 L439.88,90.54 L439.9,90.74 L439.93,90.94 L439.95,91.13 L439.98,91.32 L440.01,91.5 L440.04,91.68 L440.07,91.86 L440.1,92.03 L440.14,92.2 L440.17,92.36 L440.21,92.53 L440.25,92.68 L440.29,92.84 L440.33,92.99 L440.37,93.13 L440.41,93.28 L440.45,93.42 L440.5,93.55 L440.54,93.68 L440.58,93.81 L440.63,93.94 L440.67,94.06 L440.72,94.18 L440.76,94.3 L440.81,94.41 L440.85,94.52 L440.9,94.62 L440.94,94.73 L440.99,94.83 L441.04,94.92 L441.08,95.02 L441.13,95.11 L441.17,95.19 L441.22,95.28 L441.26,95.36 L441.31,95.44 L441.35,95.52 L441.39,95.59 L441.44,95.66 L441.48,95.73 L441.52,95.8 L441.56,95.86 L441.6,95.92 L441.64,95.98 L441.68,96.04 L441.72,96.1 L441.76,96.15 L441.8,96.2 L441.84,96.25 L441.87,96.29 L441.91,96.34 L441.94,96.38 L441.98,96.42 L442.01,96.46 L442.05,96.5 L442.08,96.54 L442.11,96.57 L442.14,96.6 L442.17,96.63 L442.2,96.66 L442.23,96.69 L442.25,96.72 L442.28,96.74 L442.31,96.77 L442.33,96.79 L442.35,96.81 L442.38,96.83 L442.4,96.85 L442.42,96.87 L442.44,96.89 L442.46,96.9 L442.48,96.92 L442.5,96.93 L442.52,96.94 L442.54,96.96 L442.55,96.97 L442.57,96.98 L442.58,96.99 L442.6,97 L442.61,97.01 L442.63,97.02 L442.64,97.02 L442.65,97.03 L442.66,97.04 L442.67,97.04 L442.68,97.05 L442.69,97.05 L442.7,97.06 L442.71,97.06 L442.72,97.07 L442.72,97.07 L442.73,97.07 L442.74,97.08 L442.74,97.08 L442.75,97.08 L442.75,97.08 L442.76,97.09 L442.76,97.09 L442.77,97.09 L442.77,97.09 L442.77,97.09 L442.78,97.09 L442.78,97.09 L442.78,97.1 L442.78,97.1 L442.79,97.1 L442.79,97.1 L442.79,97.1 L442.79,97.1 L442.79,97.1 L442.79,97.1 L442.8,97.1 L442.8,97.1 L442.8,97.1 L442.8,97.1 L442.8,97.1 L442.8,97.1 L442.8,97.1 L442.8,97.1 L442.8,97.1 L442.8,97.1 L442.8,97.1 L442.8,97.1 L442.8,97.1 L442.8,97.1 L442.8,97.1 L442.8,97.1 L442.8,97.1 L442.8,97.1 L442.8,97.1 L442.8,97.1 L442.8,97.1 L442.8,97.1 L442.8,97.1 L442.8,97.1 L442.8,97.1 L442.8,97.1 L442.8,97.1 L442.8,97.1 L442.8,97.1 L442.8,97.1 L442.8,97.1 L442.8,97.1 L442.8,97.1 L442.8,97.1 L442.8,97.1 L442.8,97.1 L442.8,97.1 L442.8,97.1 L442.8,97.1 L442.8,97.1 L442.8,97.1 L442.79,97.1 L442.79,97.1 L442.79,97.1 L442.79,97.1 L442.79,97.1 L442.79,97.1 L442.78,97.1 L442.78,97.1 L442.78,97.11 L442.78,97.11 L442.77,97.11 L442.77,97.11 L442.77,97.11 L442.76,97.11 L442.76,97.11 L442.75,97.12 L442.75,97.12 L442.74,97.12 L442.74,97.12 L442.73,97.13 L442.72,97.13 L442.72,97.13 L442.71,97.14 L442.7,97.14 L442.69,97.15 L442.68,97.15 L442.67,97.16 L442.66,97.16 L442.65,97.17 L442.64,97.18 L442.63,97.18 L442.61,97.19 L442.6,97.2 L442.58,97.21 L442.57,97.22 L442.55,97.23 L442.54,97.24 L442.52,97.26 L442.5,97.27 L442.48,97.28 L442.46,97.3 L442.44,97.31 L442.42,97.33 L442.4,97.35 L442.38,97.37 L442.35,97.39 L442.33,97.41 L442.31,97.43 L442.28,97.46 L442.25,97.48 L442.23,97.51 L442.2,97.54 L442.17,97.57 L442.14,97.6 L442.11,97.63 L442.08,97.66 L442.05,97.7 L442.01,97.74 L441.98,97.78 L441.94,97.82 L441.91,97.86 L441.87,97.91 L441.84,97.95 L441.8,98 L441.76,98.05 L441.72,98.1 L441.68,98.16 L441.64,98.22 L441.6,98.28 L441.56,98.34 L441.52,98.4 L441.48,98.47 L441.44,98.54 L441.39,98.61 L441.35,98.68 L441.31,98.76 L441.26,98.84 L441.22,98.92 L441.17,99.01 L441.13,99.09 L441.08,99.18 L441.04,99.28 L440.99,99.37 L440.94,99.47 L440.9,99.58 L440.85,99.68 L440.81,99.79 L440.76,99.9 L440.72,100.02 L440.67,100.14 L440.63,100.26 L440.58,100.39 L440.54,100.52 L440.5,100.65 L440.45,100.78 L440.41,100.92 L440.37,101.07 L440.33,101.21 L440.29,101.36 L440.25,101.52 L440.21,101.67 L440.17,101.84 L440.14,102 L440.1,102.17 L440.07,102.34 L440.04,102.52 L440.01,102.7 L439.98,102.88 L439.95,103.07 L439.93,103.26 L439.9,103.46 L439.88,103.66 L439.86,103.86 L439.84,104.07 L439.83,104.28 L439.81,104.5 L439.8,104.72 L439.79,104.94 L439.78,105.17 L439.78,105.4 L439.78,105.63 L439.78,105.87 L439.78,106.12 L439.79,106.36 L439.8,106.61 L439.81,106.87 L439.83,107.13 L439.85,107.39 L439.87,107.66 L439.9,107.92 L439.93,108.2 L439.96,108.48 L440,108.76 L440.04,109.04 L440.09,109.33 L440.14,109.62 L440.19,109.91 L440.25,110.21 L440.31,110.51 L440.38,110.82 L440.45,111.13 L440.53,111.44 L440.61,111.75 L440.7,112.07 L440.79,112.39 L440.88,112.71 L440.98,113.04 L441.09,113.37 L441.2,113.7 L441.32,114.03 L441.44,114.37 L441.57,114.71 L441.7,115.05 L441.84,115.4 L441.99,115.74 L442.14,116.09 L442.29,116.44 L442.46,116.79 L442.63,117.14 L442.8,117.5 L442.98,117.86 L443.17,118.22 L443.36,118.57 L443.56,118.94 L443.77,119.3 L443.98,119.66 L444.2,120.02 L444.43,120.39 L444.66,120.75 L444.9,121.12 L445.15,121.49 L445.4,121.85 L445.66,122.22 L445.93,122.58 L446.2,122.95 L446.48,123.32 L446.77,123.68 L447.07,124.05 L447.37,124.41 L447.68,124.77 L448,125.14 L448.32,125.5 L448.65,125.86 L448.99,126.21 L449.33,126.57 L449.69,126.93 L450.05,127.28 L450.41,127.63 L450.79,127.98 L451.17,128.32 L451.55,128.67 L451.95,129.01 L452.35,129.35 L452.76,129.68 L453.18,130.02 L453.6,130.35 L454.03,130.67 L454.47,130.99 L454.91,131.31 L455.37,131.63 L455.82,131.94 L456.29,132.24 L456.76,132.54 L457.24,132.84 L457.73,133.13 L458.22,133.42 L458.72,133.7 L459.22,133.98 L459.73,134.25 L460.25,134.52 L460.77,134.78 L461.3,135.03 L461.84,135.28 L462.38,135.53 L462.93,135.76 L463.48,135.99 L464.04,136.22 L464.6,136.44 L465.17,136.65 L465.75,136.85 L466.33,137.05 L466.92,137.24 L467.51,137.42 L468.1,137.59 L468.7,137.76 L469.31,137.92 L469.92,138.07 L470.53,138.22 L471.15,138.35 L471.77,138.48 L472.4,138.6 L473.03,138.71 L473.66,138.81 L474.3,138.9 L474.94,138.99 L475.58,139.06 L476.23,139.13 L476.88,139.19 L477.53,139.24 L478.19,139.27 L478.85,139.3 L479.5,139.32 L480.17,139.33 L480.83,139.34 L481.49,139.33 L482.16,139.31 L482.83,139.28 L483.5,139.24 L484.17,139.2 L484.84,139.14 L485.51,139.07 L486.18,138.99 L486.85,138.9 L487.52,138.8 L488.19,138.7 L488.86,138.58 L489.54,138.45 L490.2,138.31 L490.87,138.16 L491.54,138 L492.21,137.83 L492.87,137.65 L493.53,137.45 L494.19,137.25 L494.85,137.04 L495.51,136.82 L496.16,136.58 L496.81,136.34 L497.46,136.09 L498.1,135.82 L498.74,135.55 L499.38,135.26 L500.01,134.97 L500.64,134.66 L501.26,134.35 L501.88,134.02 L502.5,133.68 L503.11,133.34 L503.72,132.98 L504.32,132.62 L504.91,132.24 L505.5,131.86 L506.08,131.46 L506.66,131.06 L507.23,130.64 L507.8,130.22 L508.36,129.78 L508.91,129.34 L509.45,128.89 L509.99,128.43 L510.52,127.96 L511.04,127.48 L511.55,127 L512.06,126.5 L512.56,126 L513.05,125.48 L513.53,124.96 L514,124.43 L514.47,123.9 L514.92,123.35 L515.37,122.8 L515.81,122.24 L516.24,121.67 L516.65,121.1 L517.06,120.52 L517.46,119.93 L517.85,119.33 L518.23,118.73 L518.6,118.12 L518.96,117.51 L519.3,116.89 L519.64,116.26 L519.97,115.63 L520.28,114.99 L520.59,114.35 L520.88,113.7 L521.16,113.04 L521.44,112.39 L521.7,111.72 L521.94,111.06 L522.18,110.38 L522.41,109.71 L522.62,109.03 L522.82,108.35 L523.01,107.66 L523.19,106.97 L523.36,106.28 L523.51,105.58 L523.65,104.89 L523.78,104.18 L523.9,103.48 L524,102.78 L524.1,102.07 L524.18,101.36 L524.24,100.66 L524.3,99.95 L524.34,99.24 L524.38,98.52 L524.39,97.81 L524.4,97.1Z" stroke="#000" stroke-width="2.5" fill="none" stroke-linejoin="round"/>
<text x="381.69" y="11" font-size="10.8" fill="#1e1e1e" stroke="#1e1e1e" stroke-width="0.3"> 20</text><path transform="translate(381.69 11) scale(0.00527 -0.00527)" d="M763,0H583V1147Q518,1085 412.5,1023Q307,961 223,930V1104Q374,1175 487,1276Q600,1377 647,1466H763Z" fill="#1e1e1e" stroke="#1e1e1e" stroke-width="56.888888888888886"/>
<text x="485.79" y="11" font-size="10.8" fill="#1e1e1e" stroke="#1e1e1e" stroke-width="0.3">60</text>
<text x="329.58" y="100.2" font-size="10.8" fill="#1e1e1e" stroke="#1e1e1e" stroke-width="0.3"> 80</text><path transform="translate(329.58 100.2) scale(0.00527 -0.00527)" d="M763,0H583V1147Q518,1085 412.5,1023Q307,961 223,930V1104Q374,1175 487,1276Q600,1377 647,1466H763Z" fill="#1e1e1e" stroke="#1e1e1e" stroke-width="56.888888888888886"/>
<text x="538.6" y="100.3" font-size="10.8" fill="#1e1e1e" stroke="#1e1e1e" stroke-width="0.3">0</text>
<text x="381.09" y="189" font-size="10.8" fill="#1e1e1e" stroke="#1e1e1e" stroke-width="0.3">240</text>
<text x="485.69" y="189" font-size="10.8" fill="#1e1e1e" stroke="#1e1e1e" stroke-width="0.3">300</text>
<line x1="445.4" y1="301.5" x2="534.4" y2="301.5" stroke="#868686" stroke-width="1"/>
<line x1="445.4" y1="301.5" x2="522.48" y2="257" stroke="#bebebe" stroke-width="1"/>
<line x1="445.4" y1="301.5" x2="489.9" y2="224.42" stroke="#858585" stroke-width="1"/>
<line x1="445.4" y1="301.5" x2="445.4" y2="212.5" stroke="#c2c2c2" stroke-width="1"/>
<line x1="445.4" y1="301.5" x2="400.9" y2="224.42" stroke="#858585" stroke-width="1"/>
<line x1="445.4" y1="301.5" x2="368.32" y2="257" stroke="#bebebe" stroke-width="1"/>
<line x1="445.4" y1="301.5" x2="356.4" y2="301.5" stroke="#868686" stroke-width="1"/>
<line x1="445.4" y1="301.5" x2="368.32" y2="346" stroke="#bebebe" stroke-width="1"/>
<line x1="445.4" y1="301.5" x2="400.9" y2="378.58" stroke="#858585" stroke-width="1"/>
<line x1="445.4" y1="301.5" x2="445.4" y2="390.5" stroke="#c2c2c2" stroke-width="1"/>
<line x1="445.4" y1="301.5" x2="489.9" y2="378.58" stroke="#858585" stroke-width="1"/>
<line x1="445.4" y1="301.5" x2="522.48" y2="346" stroke="#bebebe" stroke-width="1"/>
<path d="M531.2,301.5 L534.4,301.5 M519.7,258.6 L522.48,257 M488.3,227.2 L489.9,224.42 M445.4,215.7 L445.4,212.5 M402.5,227.2 L400.9,224.42 M371.1,258.6 L368.32,257 M359.6,301.5 L356.4,301.5 M371.1,344.4 L368.32,346 M402.5,375.8 L400.9,378.58 M445.4,387.3 L445.4,390.5 M488.3,375.8 L489.9,378.58 M519.7,344.4 L522.48,346" stroke="#2a2a2a" stroke-width="1.1"/>
<circle cx="445.4" cy="301.5" r="32.2" fill="none" stroke="#4848f2" stroke-width="1.25"/>
<circle cx="445.4" cy="301.5" r="64.4" fill="none" stroke="#4848f2" stroke-width="1.25"/>
<circle cx="445.4" cy="301.5" r="89" fill="none" stroke="#303030" stroke-width="1.5"/>
<line x1="445.4" y1="301.5" x2="499" y2="301.5" stroke="#0000ff" stroke-width="1.2"/>
<path d="M509.2,301.5 L498,298.5 L498,304.5 Z" fill="#0000ff"/>
<path d="M364,301.6 C364,299.23 364.37,296.47 364.7,294.5 C365.03,292.53 365.43,291.25 366,289.8 C366.57,288.35 367.32,287.03 368.1,285.8 C368.88,284.57 369.7,283.47 370.7,282.4 C371.7,281.33 372.87,280.35 374.1,279.4 C375.33,278.45 376.77,277.48 378.1,276.7 C379.43,275.92 380.87,275.23 382.1,274.7 C383.33,274.17 384.18,273.9 385.5,273.5 C386.82,273.1 388.63,272.65 390,272.3 C391.37,271.95 392.3,271.63 393.7,271.4 C395.1,271.17 396.83,270.98 398.4,270.9 C399.97,270.82 401.53,270.82 403.1,270.9 C404.67,270.98 406.38,271.2 407.8,271.4 C409.22,271.6 410.4,271.88 411.6,272.1 C412.8,272.32 413.77,272.45 415,272.7 C416.23,272.95 417.55,273.15 419,273.6 C420.45,274.05 422.13,274.65 423.7,275.4 C425.27,276.15 426.83,277.1 428.4,278.1 C429.97,279.1 431.65,280.23 433.1,281.4 C434.55,282.57 435.87,283.82 437.1,285.1 C438.33,286.38 439.48,287.75 440.5,289.1 C441.52,290.45 442.48,291.85 443.2,293.2 C443.92,294.55 444.45,295.8 444.8,297.2 C445.15,298.6 445.3,300.13 445.3,301.6 C445.3,303.07 445.15,304.6 444.8,306 C444.45,307.4 443.92,308.65 443.2,310 C442.48,311.35 441.52,312.75 440.5,314.1 C439.48,315.45 438.33,316.82 437.1,318.1 C435.87,319.38 434.55,320.63 433.1,321.8 C431.65,322.97 429.97,324.1 428.4,325.1 C426.83,326.1 425.27,327.05 423.7,327.8 C422.13,328.55 420.45,329.15 419,329.6 C417.55,330.05 416.23,330.25 415,330.5 C413.77,330.75 412.8,330.88 411.6,331.1 C410.4,331.32 409.22,331.6 407.8,331.8 C406.38,332 404.67,332.22 403.1,332.3 C401.53,332.38 399.97,332.38 398.4,332.3 C396.83,332.22 395.1,332.03 393.7,331.8 C392.3,331.57 391.37,331.25 390,330.9 C388.63,330.55 386.82,330.1 385.5,329.7 C384.18,329.3 383.33,329.03 382.1,328.5 C380.87,327.97 379.43,327.28 378.1,326.5 C376.77,325.72 375.33,324.75 374.1,323.8 C372.87,322.85 371.7,321.87 370.7,320.8 C369.7,319.73 368.88,318.63 368.1,317.4 C367.32,316.17 366.57,314.85 366,313.4 C365.43,311.95 365.03,310.67 364.7,308.7 C364.37,306.73 364,303.97 364,301.6Z" stroke="#000" stroke-width="2.3" fill="none"/>
<text x="385.59" y="218" font-size="10.8" fill="#1e1e1e" stroke="#1e1e1e" stroke-width="0.3"> 20</text><path transform="translate(385.59 218) scale(0.00527 -0.00527)" d="M763,0H583V1147Q518,1085 412.5,1023Q307,961 223,930V1104Q374,1175 487,1276Q600,1377 647,1466H763Z" fill="#1e1e1e" stroke="#1e1e1e" stroke-width="56.888888888888886"/>
<text x="486.79" y="218" font-size="10.8" fill="#1e1e1e" stroke="#1e1e1e" stroke-width="0.3">60</text>
<text x="335.08" y="304.1" font-size="10.8" fill="#1e1e1e" stroke="#1e1e1e" stroke-width="0.3"> 80</text><path transform="translate(335.08 304.1) scale(0.00527 -0.00527)" d="M763,0H583V1147Q518,1085 412.5,1023Q307,961 223,930V1104Q374,1175 487,1276Q600,1377 647,1466H763Z" fill="#1e1e1e" stroke="#1e1e1e" stroke-width="56.888888888888886"/>
<text x="537.3" y="304.3" font-size="10.8" fill="#1e1e1e" stroke="#1e1e1e" stroke-width="0.3">0</text>
<text x="385.19" y="391" font-size="10.8" fill="#1e1e1e" stroke="#1e1e1e" stroke-width="0.3">240</text>
<text x="486.59" y="391" font-size="10.8" fill="#1e1e1e" stroke="#1e1e1e" stroke-width="0.3">300</text>
<line x1="441.2" y1="501.2" x2="532.4" y2="501.2" stroke="#9e9e9e" stroke-width="1"/>
<line x1="441.2" y1="501.2" x2="520.18" y2="455.6" stroke="#bebebe" stroke-width="1"/>
<line x1="441.2" y1="501.2" x2="486.8" y2="422.22" stroke="#858585" stroke-width="1"/>
<line x1="441.2" y1="501.2" x2="441.2" y2="410" stroke="#c2c2c2" stroke-width="1"/>
<line x1="441.2" y1="501.2" x2="395.6" y2="422.22" stroke="#858585" stroke-width="1"/>
<line x1="441.2" y1="501.2" x2="362.22" y2="455.6" stroke="#bebebe" stroke-width="1"/>
<line x1="441.2" y1="501.2" x2="350" y2="501.2" stroke="#9e9e9e" stroke-width="1"/>
<line x1="441.2" y1="501.2" x2="362.22" y2="546.8" stroke="#bebebe" stroke-width="1"/>
<line x1="441.2" y1="501.2" x2="395.6" y2="580.18" stroke="#858585" stroke-width="1"/>
<line x1="441.2" y1="501.2" x2="441.2" y2="592.4" stroke="#c2c2c2" stroke-width="1"/>
<line x1="441.2" y1="501.2" x2="486.8" y2="580.18" stroke="#858585" stroke-width="1"/>
<line x1="441.2" y1="501.2" x2="520.18" y2="546.8" stroke="#bebebe" stroke-width="1"/>
<path d="M529.2,501.2 L532.4,501.2 M517.41,457.2 L520.18,455.6 M485.2,424.99 L486.8,422.22 M441.2,413.2 L441.2,410 M397.2,424.99 L395.6,422.22 M364.99,457.2 L362.22,455.6 M353.2,501.2 L350,501.2 M364.99,545.2 L362.22,546.8 M397.2,577.41 L395.6,580.18 M441.2,589.2 L441.2,592.4 M485.2,577.41 L486.8,580.18 M517.41,545.2 L520.18,546.8" stroke="#2a2a2a" stroke-width="1.1"/>
<circle cx="441.2" cy="501.2" r="30.8" fill="none" stroke="#4848f2" stroke-width="1.25"/>
<circle cx="441.2" cy="501.2" r="60.7" fill="none" stroke="#4848f2" stroke-width="1.25"/>
<circle cx="441.2" cy="501.2" r="91.2" fill="none" stroke="#211f66" stroke-width="1.5"/>
<line x1="441.2" y1="501.2" x2="495.4" y2="501.2" stroke="#0000ff" stroke-width="1.5"/>
<path d="M502.4,501.2 L494.4,498.6 L494.4,503.8 Z" fill="#0000ff"/>
<path d="M441.3,501.1 C441.7,500.63 442.85,499.65 443.7,498.3 C444.55,496.95 445.58,494.78 446.4,493 C447.22,491.22 447.98,489.38 448.6,487.6 C449.22,485.82 449.68,484.23 450.1,482.3 C450.52,480.37 450.88,478.08 451.1,476 C451.32,473.92 451.42,471.87 451.4,469.8 C451.38,467.73 451.25,465.68 451,463.6 C450.75,461.52 450.37,459.08 449.9,457.3 C449.43,455.52 448.83,454.42 448.2,452.9 C447.57,451.38 446.78,449.77 446.1,448.2 C445.42,446.63 444.77,445.07 444.1,443.5 C443.43,441.93 442.88,440.37 442.1,438.8 C441.32,437.23 440.35,435.5 439.4,434.1 C438.45,432.7 437.45,431.52 436.4,430.4 C435.35,429.28 434.33,428.35 433.1,427.4 C431.87,426.45 430.35,425.55 429,424.7 C427.65,423.85 426.48,422.92 425,422.3 C423.52,421.68 421.58,421.15 420.1,421 C418.62,420.85 417.43,421.12 416.1,421.4 C414.77,421.68 413.33,422.08 412.1,422.7 C410.87,423.32 409.7,424.08 408.7,425.1 C407.7,426.12 406.88,427.52 406.1,428.8 C405.32,430.08 404.52,431.35 404,432.8 C403.48,434.25 403.22,435.83 403,437.5 C402.78,439.17 402.73,441.02 402.7,442.8 C402.67,444.58 402.67,446.5 402.8,448.2 C402.93,449.9 403.18,451.47 403.5,453 C403.82,454.53 404.22,455.78 404.7,457.4 C405.18,459.02 405.73,460.92 406.4,462.7 C407.07,464.48 407.87,466.42 408.7,468.1 C409.53,469.78 410.5,471.35 411.4,472.8 C412.3,474.25 413.15,475.35 414.1,476.8 C415.05,478.25 415.98,480.03 417.1,481.5 C418.22,482.97 419.52,484.25 420.8,485.6 C422.08,486.95 423.6,488.52 424.8,489.6 C426,490.68 427.05,491.37 428,492.1 C428.95,492.83 429.37,493.18 430.5,494 C431.63,494.82 433.48,496.13 434.8,497 C436.12,497.87 437.32,498.52 438.4,499.2 C439.48,499.88 440.82,500.78 441.3,501.1 M441.3,501.1 C441.7,501.45 442.85,502.27 443.7,503.2 C444.55,504.13 445.6,505.23 446.4,506.7 C447.2,508.17 447.88,510.1 448.5,512 C449.12,513.9 449.68,516.07 450.1,518.1 C450.52,520.13 450.82,522.17 451,524.2 C451.18,526.23 451.25,528.27 451.2,530.3 C451.15,532.33 450.93,534.4 450.7,536.4 C450.47,538.4 450.17,540.47 449.8,542.3 C449.43,544.13 449.05,545.67 448.5,547.4 C447.95,549.13 447.23,550.92 446.5,552.7 C445.77,554.48 444.88,556.53 444.1,558.1 C443.32,559.67 442.75,560.75 441.8,562.1 C440.85,563.45 439.63,564.85 438.4,566.2 C437.17,567.55 435.83,568.93 434.4,570.2 C432.97,571.47 431.28,572.83 429.8,573.8 C428.32,574.77 426.83,575.47 425.5,576 C424.17,576.53 423.15,576.85 421.8,577 C420.45,577.15 418.8,577.2 417.4,576.9 C416,576.6 414.62,575.98 413.4,575.2 C412.18,574.42 411.1,573.37 410.1,572.2 C409.1,571.03 408.13,569.65 407.4,568.2 C406.67,566.75 406.1,565.18 405.7,563.5 C405.3,561.82 405.12,559.9 405,558.1 C404.88,556.3 404.88,554.48 405,552.7 C405.12,550.92 405.4,549.15 405.7,547.4 C406,545.65 406.23,544.02 406.8,542.2 C407.37,540.38 408.33,538.23 409.1,536.5 C409.87,534.77 410.57,533.37 411.4,531.8 C412.23,530.23 413.2,528.67 414.1,527.1 C415,525.53 415.9,523.85 416.8,522.4 C417.7,520.95 418.5,519.73 419.5,518.4 C420.5,517.07 421.75,515.58 422.8,514.4 C423.85,513.22 424.82,512.28 425.8,511.3 C426.78,510.32 427.53,509.52 428.7,508.5 C429.87,507.48 431.38,506.2 432.8,505.2 C434.22,504.2 435.78,503.18 437.2,502.5 C438.62,501.82 440.62,501.33 441.3,501.1" stroke="#000" stroke-width="2.1" fill="none" stroke-linejoin="round"/>
<text x="383.33" y="418" font-size="8.6" fill="#1e1e1e" stroke="#1e1e1e" stroke-width="0" font-weight="bold"> 20</text><path transform="translate(383.33 418) scale(0.00420 -0.00420)" d="M759,0H478V1059Q324,915 115,846V1101Q225,1137 354,1237Q483,1337 531,1466H759Z" fill="#1e1e1e" stroke="#1e1e1e" stroke-width="0"/>
<text x="484.32" y="418" font-size="8.6" fill="#1e1e1e" stroke="#1e1e1e" stroke-width="0" font-weight="bold">60</text>
<text x="332.75" y="504" font-size="8.6" fill="#1e1e1e" stroke="#1e1e1e" stroke-width="0" font-weight="bold"> 80</text><path transform="translate(332.75 504) scale(0.00420 -0.00420)" d="M759,0H478V1059Q324,915 115,846V1101Q225,1137 354,1237Q483,1337 531,1466H759Z" fill="#1e1e1e" stroke="#1e1e1e" stroke-width="0"/>
<text x="535.8" y="503.7" font-size="8.6" fill="#1e1e1e" stroke="#1e1e1e" stroke-width="0" font-weight="bold">0</text>
<text x="382.63" y="590.6" font-size="8.6" fill="#1e1e1e" stroke="#1e1e1e" stroke-width="0" font-weight="bold">240</text>
<text x="484.23" y="590.6" font-size="8.6" fill="#1e1e1e" stroke="#1e1e1e" stroke-width="0" font-weight="bold">300</text>
</svg>
</body></html>
